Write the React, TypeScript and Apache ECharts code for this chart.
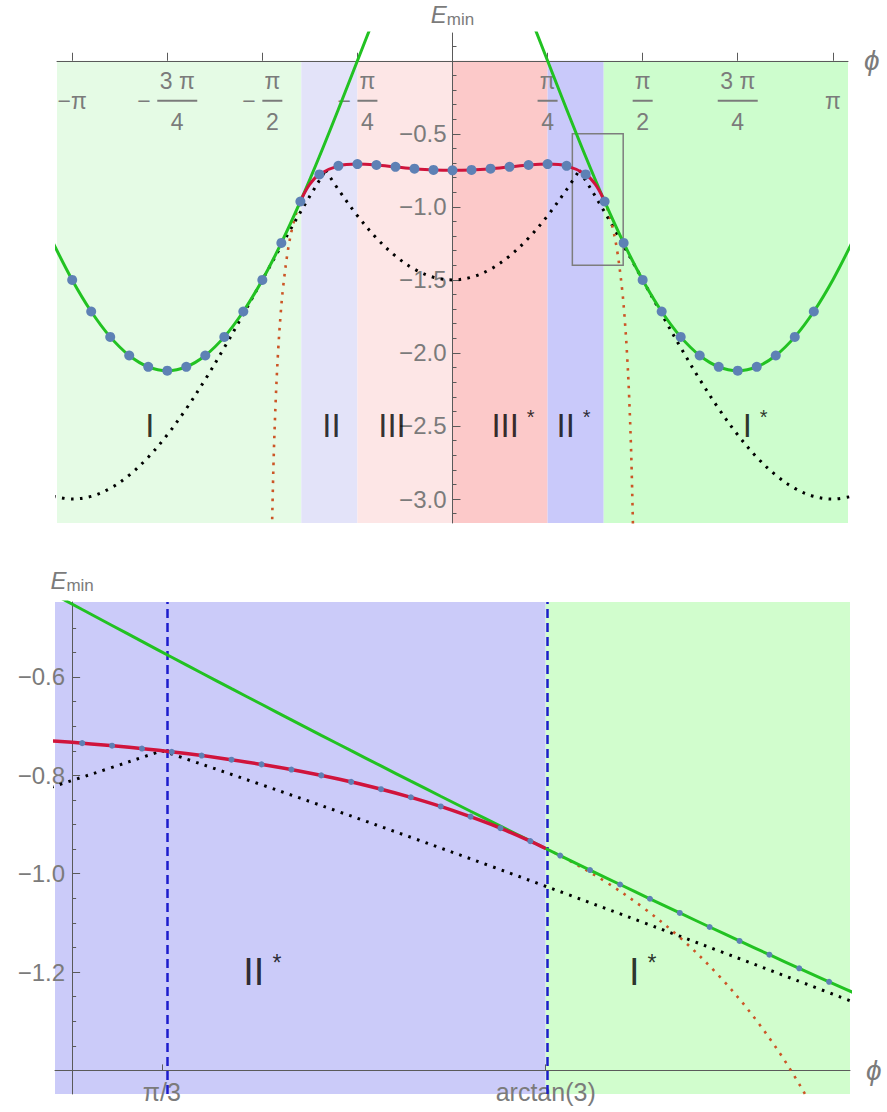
import React, { useEffect, useRef } from "react";
import * as echarts from "echarts";

const FONT = "'Liberation Sans', Arial, sans-serif";
const GRAY = "#7b7b7b";
const AXIS = "#5a5a5a";
const GREEN = "#22c222";
const RED = "#d0143c";
const RED_DOT = "#cc5526";
const BLACK = "#000000";
const DOT = "#5e81b5";

// ---------- upper panel: E_min over the full circle ----------
const PHI_RANGE_FULL = [-3.267, 3.267];
const E_RANGE_FULL = [-3.164, 0.19];

const REGION_EDGES_FULL = [-3.267, -1.249, -0.7854, 0, 0.7854, 1.249, 3.267];
const REGION_NAMES_FULL = ["I", "II", "III", "III*", "II*", "I*"];
const REGION_LABEL_PHI_FULL = [-2.5, -1.0, -0.5, 0.5, 1.0, 2.5];
const REGION_LABEL_E_FULL = -2.5;

// branch I / I* (green)
const GREEN_I: [number, number][] = [
  [-3.2987, -1.2469], [-3.1416, -1.5], [-2.9845, -1.7162], [-2.8274, -1.8901],
  [-2.6704, -2.0175], [-2.5133, -2.0952], [-2.3562, -2.1213], [-2.1991, -2.0952],
  [-2.042, -2.0175], [-1.885, -1.8901], [-1.7279, -1.7162], [-1.5708, -1.5],
  [-1.4137, -1.2469], [-1.2566, -0.9631], [-1.0996, -0.6555], [-0.9425, -0.3318],
  [-0.7854, 0], [-0.6283, 0.3318],
];
const GREEN_I_STAR: [number, number][] = [
  [0.6283, 0.3318], [0.7854, 0], [0.9425, -0.3318], [1.0996, -0.6555],
  [1.2566, -0.9631], [1.4137, -1.2469], [1.5708, -1.5], [1.7279, -1.7162],
  [1.885, -1.8901], [2.042, -2.0175], [2.1991, -2.0952], [2.3562, -2.1213],
  [2.5133, -2.0952], [2.6704, -2.0175], [2.8274, -1.8901], [2.9845, -1.7162],
  [3.1416, -1.5], [3.2987, -1.2469],
];
// branch II / III (red), valid part
const RED_FULL: [number, number][] = [
  [-1.249, -0.9487], [-1.18, -0.8468], [-1.0996, -0.7777], [-0.9425, -0.7192],
  [-0.7854, -0.7071], [-0.6283, -0.7135], [-0.4712, -0.7261], [-0.3142, -0.7384],
  [-0.1571, -0.747], [0, -0.75], [0.1571, -0.747], [0.3142, -0.7384],
  [0.4712, -0.7261], [0.6283, -0.7135], [0.7854, -0.7071], [0.9425, -0.7192],
  [1.0996, -0.7777], [1.18, -0.8468], [1.249, -0.9487],
];
// branch II continued past its range (dotted)
const RED_EXT_LEFT: [number, number][] = [
  [-1.5, -3.5696], [-1.48, -2.8026], [-1.46, -2.3163], [-1.44, -1.9821],
  [-1.42, -1.7393], [-1.4, -1.5559], [-1.36, -1.2994], [-1.32, -1.1314],
  [-1.28, -1.0153], [-1.249, -0.9487],
];
const RED_EXT_RIGHT: [number, number][] = [
  [1.249, -0.9487], [1.28, -1.0153], [1.32, -1.1314], [1.36, -1.2994],
  [1.4, -1.5559], [1.42, -1.7393], [1.44, -1.9821], [1.46, -2.3163],
  [1.48, -2.8026], [1.5, -3.5696],
];
// reference curve (black dotted), three smooth pieces meeting at ±π/3
const BLACK_LEFT: [number, number][] = [
  [-3.2987, -2.9815], [-3.1416, -3.0], [-2.9845, -2.9815], [-2.8274, -2.9266],
  [-2.6704, -2.8365], [-2.5133, -2.7135], [-2.3562, -2.5607], [-2.1991, -2.3817],
  [-2.042, -2.181], [-1.885, -1.9635], [-1.7279, -1.7347], [-1.5708, -1.5],
  [-1.4137, -1.2654], [-1.34, -1.1569], [-1.28, -1.0699], [-1.22, -0.9845],
  [-1.16, -0.901], [-1.1, -0.8196], [-1.0472, -0.75],
];
const BLACK_MID: [number, number][] = [
  [-1.0472, -0.75], [-0.9425, -0.8817], [-0.7854, -1.0607], [-0.6283, -1.2135],
  [-0.4712, -1.3365], [-0.3142, -1.4266], [-0.1571, -1.4815], [0, -1.5],
  [0.1571, -1.4815], [0.3142, -1.4266], [0.4712, -1.3365], [0.6283, -1.2135],
  [0.7854, -1.0607], [0.9425, -0.8817], [1.0472, -0.75],
];
const BLACK_RIGHT: [number, number][] = [
  [1.0472, -0.75], [1.1, -0.8196], [1.16, -0.901], [1.22, -0.9845],
  [1.28, -1.0699], [1.34, -1.1569], [1.4137, -1.2654], [1.5708, -1.5],
  [1.7279, -1.7347], [1.885, -1.9635], [2.042, -2.181], [2.1991, -2.3817],
  [2.3562, -2.5607], [2.5133, -2.7135], [2.6704, -2.8365], [2.8274, -2.9266],
  [2.9845, -2.9815], [3.1416, -3.0], [3.2987, -2.9815],
];
// numerical minima, step π/20
const POINTS_FULL: [number, number][] = [
  [-3.1416, -1.5], [-2.9845, -1.7162], [-2.8274, -1.8901], [-2.6704, -2.0175],
  [-2.5133, -2.0952], [-2.3562, -2.1213], [-2.1991, -2.0952], [-2.042, -2.0175],
  [-1.885, -1.8901], [-1.7279, -1.7162], [-1.5708, -1.5], [-1.4137, -1.2469],
  [-1.2566, -0.9631], [-1.0996, -0.7777], [-0.9425, -0.7192], [-0.7854, -0.7071],
  [-0.6283, -0.7135], [-0.4712, -0.7261], [-0.3142, -0.7384], [-0.1571, -0.747],
  [0, -0.75], [0.1571, -0.747], [0.3142, -0.7384], [0.4712, -0.7261],
  [0.6283, -0.7135], [0.7854, -0.7071], [0.9425, -0.7192], [1.0996, -0.7777],
  [1.2566, -0.9631], [1.4137, -1.2469], [1.5708, -1.5], [1.7279, -1.7162],
  [1.885, -1.8901], [2.042, -2.0175], [2.1991, -2.0952], [2.3562, -2.1213],
  [2.5133, -2.0952], [2.6704, -2.0175], [2.8274, -1.8901], [2.9845, -1.7162],
];
const ZOOM_BOX_PHI = [0.99, 1.41];
const ZOOM_BOX_E = [-1.4, -0.5];

const X_TICKS_FULL = [-3.1416, -2.3562, -1.5708, -0.7854, 0, 0.7854, 1.5708, 2.3562, 3.1416];
const X_LABEL_VALUES_FULL = [-3.1416, -2.3562, -1.5708, -0.7854, 0.7854, 1.5708, 2.3562, 3.1416];
const X_LABEL_TEXT_FULL = ["−π", "−3 π/4", "−π/2", "−π/4", "π/4", "π/2", "3 π/4", "π"];
const Y_TICKS_FULL = [-3.0, -2.5, -2.0, -1.5, -1.0, -0.5];
const Y_MINOR_FULL = [
  -3.1, -2.9, -2.8, -2.7, -2.6, -2.4, -2.3, -2.2, -2.1, -1.9, -1.8, -1.7, -1.6,
  -1.4, -1.3, -1.2, -1.1, -0.9, -0.8, -0.7, -0.6, -0.4, -0.3, -0.2, -0.1, 0.1,
];
const AXIS_CROSS_FULL = [0, 0];

// ---------- lower panel: close-up around the II*/I* boundary ----------
const PHI_RANGE_ZOOM = [0.991, 1.409];
const E_RANGE_ZOOM = [-1.448, -0.4475];
const AXIS_CROSS_ZOOM = [1.0, -1.4];
const REGION_EDGES_ZOOM = [0.991, 1.249, 1.409];
const REGION_NAMES_ZOOM = ["II*", "I*"];
const REGION_LABEL_PHI_ZOOM = [1.1, 1.3];
const REGION_LABEL_E_ZOOM = -1.2;
const MARKER_PHI_ZOOM = [1.0472, 1.249];
const MARKER_TEXT_ZOOM = ["π/3", "arctan(3)"];

const GREEN_ZOOM: [number, number][] = [
  [0.98, -0.4102], [1.0053, -0.4628], [1.021, -0.4952], [1.0367, -0.5276],
  [1.0524, -0.5598], [1.0681, -0.5918], [1.0838, -0.6238], [1.0996, -0.6555],
  [1.1153, -0.6871], [1.131, -0.7186], [1.1467, -0.7498], [1.1624, -0.7809],
  [1.1781, -0.8118], [1.1938, -0.8425], [1.2095, -0.873], [1.2252, -0.9032],
  [1.2409, -0.9333], [1.2566, -0.9631], [1.2723, -0.9926], [1.2881, -1.022],
  [1.3038, -1.051], [1.3195, -1.0798], [1.3352, -1.1084], [1.3509, -1.1367],
  [1.3666, -1.1647], [1.3823, -1.1924], [1.398, -1.2198], [1.42, -1.2577],
];
const RED_ZOOM: [number, number][] = [
  [0.98, -0.7273], [1.0, -0.7329], [1.02, -0.7394], [1.04, -0.747],
  [1.06, -0.7558], [1.08, -0.7661], [1.1, -0.778], [1.12, -0.7917],
  [1.14, -0.8075], [1.16, -0.8257], [1.18, -0.8468], [1.2, -0.8711],
  [1.22, -0.8993], [1.24, -0.9321], [1.249, -0.9487],
];
const RED_EXT_ZOOM: [number, number][] = [
  [1.249, -0.9487], [1.26, -0.9704], [1.28, -1.0153], [1.3, -1.0683],
  [1.32, -1.1314], [1.34, -1.2073], [1.36, -1.2994], [1.38, -1.4131],
  [1.4, -1.5559], [1.42, -1.7393],
];
const BLACK_MID_ZOOM: [number, number][] = [
  [0.98, -0.8355], [1.0, -0.8104], [1.02, -0.7851], [1.04, -0.7593], [1.0472, -0.75],
];
const BLACK_RIGHT_ZOOM: [number, number][] = [
  [1.0472, -0.75], [1.06, -0.7667], [1.1, -0.8196], [1.14, -0.8736],
  [1.18, -0.9286], [1.22, -0.9845], [1.26, -1.0413], [1.3, -1.0988],
  [1.34, -1.1569], [1.38, -1.2155], [1.42, -1.2747],
];
// numerical minima, step π/200
const POINTS_ZOOM: [number, number][] = [
  [1.0053, -0.7345], [1.021, -0.7397], [1.0367, -0.7456], [1.0524, -0.7523],
  [1.0681, -0.7598], [1.0838, -0.7682], [1.0996, -0.7777], [1.1153, -0.7882],
  [1.131, -0.8001], [1.1467, -0.8133], [1.1624, -0.8281], [1.1781, -0.8446],
  [1.1938, -0.8632], [1.2095, -0.884], [1.2252, -0.9074], [1.2409, -0.9338],
  [1.2566, -0.9631], [1.2723, -0.9926], [1.2881, -1.022], [1.3038, -1.051],
  [1.3195, -1.0798], [1.3352, -1.1084], [1.3509, -1.1367], [1.3666, -1.1647],
  [1.3823, -1.1924], [1.398, -1.2198],
];
const Y_TICKS_ZOOM = [-1.2, -1.0, -0.8, -0.6];
const Y_MINOR_ZOOM = [
  -1.35, -1.3, -1.25, -1.15, -1.1, -1.05, -0.95, -0.9, -0.85, -0.75, -0.7,
  -0.65, -0.55, -0.5,
];

// fill colours of the regions (left half lighter)
const FILL_FULL = ["#e5fbe5", "#e3e3f9", "#fde6e6", "#fcc9c9", "#c9c9fa", "#cdfdcd"];
const FILL_ZOOM = ["#cbcbf9", "#d1fdcd"];

// plot frames in pixels
const GRID_FULL = { left: 57, top: 33, width: 791, height: 490 };
const GRID_ZOOM = { left: 55, top: 602, width: 795, height: 492 };

const numLabel = (v: number) => (v < 0 ? "−" : "") + Math.abs(v).toFixed(1);

// pixel distance of the crossing point from the grid's left / bottom edge
const crossFromLeft = (g: typeof GRID_FULL, xr: number[], x: number) =>
  (g.width * (x - xr[0])) / (xr[1] - xr[0]);
const crossFromBottom = (g: typeof GRID_FULL, yr: number[], y: number) =>
  (g.height * (y - yr[0])) / (yr[1] - yr[0]);

function fractionLabel(text: string): string {
  const neg = text.startsWith("−");
  const body = neg ? text.slice(1) : text;
  if (!body.includes("/")) {
    return `{gap| }\n{whole|${text}}\n{gap2| }`;
  }
  const [num, den] = body.split("/");
  const wide = num.length > 1 ? "W" : "N";
  const lead = neg ? "{sgn|−}" : "";
  const pad = neg ? "{sp| }" : "";
  return `${pad}{num${wide}|${num}}\n${lead}{bar${wide}| }\n${pad}{den${wide}|${den}}`;
}

const fracText = { fontSize: 23, fontFamily: FONT, color: GRAY, align: "center" as const };
const FRACTION_RICH = {
  numW: { ...fracText, width: 40, lineHeight: 25 },
  numN: { ...fracText, width: 20, lineHeight: 25 },
  denW: { ...fracText, width: 40, lineHeight: 29 },
  denN: { ...fracText, width: 20, lineHeight: 29 },
  barW: { width: 40, height: 2, lineHeight: 14, backgroundColor: GRAY },
  barN: { width: 20, height: 2, lineHeight: 14, backgroundColor: GRAY },
  sgn: { ...fracText, width: 20, lineHeight: 14, align: "left" as const },
  sp: { width: 20, lineHeight: 14 },
  whole: { ...fracText, lineHeight: 14 },
  gap: { lineHeight: 25 },
  gap2: { lineHeight: 29 },
};

const roman = (name: string) =>
  name.endsWith("*") ? `{r|${name.slice(0, -1)}}{s|*}` : `{r|${name}}`;

const romanRich = (size: number) => ({
  r: { fontSize: size, fontFamily: FONT, color: BLACK, lineHeight: size + 4 },
  s: {
    fontSize: Math.round(size * 0.6),
    fontFamily: FONT,
    color: BLACK,
    lineHeight: size + 4,
    verticalAlign: "top" as const,
    padding: [0, 0, 0, 8],
  },
});

const nameRich = {
  e: { fontSize: 24, fontStyle: "italic" as const, fontFamily: FONT, color: GRAY, lineHeight: 28 },
  m: { fontSize: 17, fontFamily: FONT, color: GRAY, lineHeight: 28, verticalAlign: "bottom" as const },
};

const line = (
  data: [number, number][],
  grid: number,
  color: string,
  width: number,
  dotted: boolean,
  z: number
) => ({
  type: "line",
  xAxisIndex: grid,
  yAxisIndex: grid === 0 ? 0 : 2,
  data,
  smooth: 0.35,
  showSymbol: false,
  silent: true,
  z,
  lineStyle: {
    color,
    width,
    type: dotted ? [2.6, 6.4] : "solid",
    cap: "butt",
  },
});

function buildOption() {
  const fullFills = REGION_NAMES_FULL.map((_, i) => [
    { xAxis: REGION_EDGES_FULL[i], yAxis: 0, itemStyle: { color: FILL_FULL[i] } },
    { xAxis: REGION_EDGES_FULL[i + 1], yAxis: E_RANGE_FULL[0] },
  ]);
  const zoomFills = REGION_NAMES_ZOOM.map((_, i) => [
    { xAxis: REGION_EDGES_ZOOM[i], yAxis: E_RANGE_ZOOM[1], itemStyle: { color: FILL_ZOOM[i] } },
    { xAxis: REGION_EDGES_ZOOM[i + 1], yAxis: E_RANGE_ZOOM[0] },
  ]);

  const tickStyle = { color: AXIS, width: 1 };
  const labelBase = { color: GRAY, fontFamily: FONT, fontSize: 24 };

  // axes are moved from the frame edge to the crossing point
  const xOffFull = -(GRID_FULL.height - crossFromBottom(GRID_FULL, E_RANGE_FULL, AXIS_CROSS_FULL[1]));
  const yOffFull = -crossFromLeft(GRID_FULL, PHI_RANGE_FULL, AXIS_CROSS_FULL[0]);
  const xOffZoom = -crossFromBottom(GRID_ZOOM, E_RANGE_ZOOM, AXIS_CROSS_ZOOM[1]);
  const yOffZoom = -crossFromLeft(GRID_ZOOM, PHI_RANGE_ZOOM, AXIS_CROSS_ZOOM[0]);

  return {
    animation: false,
    backgroundColor: "#ffffff",
    grid: [
      { ...GRID_FULL, outerBoundsMode: "none" },
      { ...GRID_ZOOM, outerBoundsMode: "none" },
    ],
    xAxis: [
      {
        gridIndex: 0,
        type: "value",
        position: "top",
        offset: xOffFull,
        min: PHI_RANGE_FULL[0],
        max: PHI_RANGE_FULL[1],
        z: 3,
        axisLine: { onZero: false, lineStyle: tickStyle },
        axisTick: { customValues: X_TICKS_FULL, inside: false, length: 8, lineStyle: tickStyle },
        axisLabel: {
          customValues: X_LABEL_VALUES_FULL,
          inside: true,
          margin: 8,
          verticalAlign: "top",
          formatter: (v: number) => {
            const i = X_LABEL_VALUES_FULL.findIndex((t) => Math.abs(t - v) < 1e-6);
            return i < 0 ? "" : fractionLabel(X_LABEL_TEXT_FULL[i]);
          },
          rich: FRACTION_RICH,
        },
        splitLine: { show: false },
        name: "ϕ",
        nameLocation: "end",
        nameGap: 16,
        nameTextStyle: { fontSize: 28, fontStyle: "italic", color: GRAY, fontFamily: FONT },
      },
      {
        gridIndex: 1,
        type: "value",
        position: "bottom",
        min: PHI_RANGE_ZOOM[0],
        max: PHI_RANGE_ZOOM[1],
        z: 3,
        offset: xOffZoom,
        axisLine: { onZero: false, lineStyle: tickStyle },
        axisTick: { customValues: MARKER_PHI_ZOOM, inside: true, length: 6, lineStyle: tickStyle },
        axisLabel: {
          customValues: MARKER_PHI_ZOOM,
          margin: 9,
          ...labelBase,
          fontSize: 25,
          formatter: (v: number) => {
            const i = MARKER_PHI_ZOOM.findIndex((t) => Math.abs(t - v) < 1e-6);
            return i < 0 ? "" : MARKER_TEXT_ZOOM[i];
          },
        },
        splitLine: { show: false },
        name: "ϕ",
        nameLocation: "end",
        nameGap: 16,
        nameTextStyle: { fontSize: 28, fontStyle: "italic", color: GRAY, fontFamily: FONT },
      },
    ],
    yAxis: [
      {
        gridIndex: 0,
        type: "value",
        position: "left",
        offset: yOffFull,
        min: E_RANGE_FULL[0],
        max: E_RANGE_FULL[1],
        z: 3,
        axisLine: { onZero: false, lineStyle: tickStyle },
        axisTick: { customValues: Y_TICKS_FULL, inside: true, length: 8, lineStyle: tickStyle },
        axisLabel: { customValues: Y_TICKS_FULL, margin: 6, ...labelBase, formatter: numLabel },
        splitLine: { show: false },
        name: "{e|E}{m|min}",
        nameLocation: "end",
        nameGap: 5,
        nameTextStyle: { rich: nameRich },
      },
      {
        gridIndex: 0,
        type: "value",
        position: "left",
        offset: yOffFull,
        min: E_RANGE_FULL[0],
        max: E_RANGE_FULL[1],
        z: 3,
        axisLine: { onZero: false, show: false },
        axisTick: { customValues: Y_MINOR_FULL, inside: true, length: 4, lineStyle: tickStyle },
        axisLabel: { show: false },
        splitLine: { show: false },
      },
      {
        gridIndex: 1,
        type: "value",
        position: "left",
        min: E_RANGE_ZOOM[0],
        max: E_RANGE_ZOOM[1],
        z: 3,
        offset: yOffZoom,
        axisLine: { onZero: false, lineStyle: tickStyle },
        axisTick: { customValues: Y_TICKS_ZOOM, inside: true, length: 8, lineStyle: tickStyle },
        axisLabel: { customValues: Y_TICKS_ZOOM, margin: 7, ...labelBase, formatter: numLabel },
        splitLine: { show: false },
        name: "{e|E}{m|min}",
        nameLocation: "end",
        nameGap: 8,
        nameTextStyle: { rich: nameRich },
      },
      {
        gridIndex: 1,
        type: "value",
        position: "left",
        min: E_RANGE_ZOOM[0],
        max: E_RANGE_ZOOM[1],
        z: 3,
        offset: yOffZoom,
        axisLine: { onZero: false, show: false },
        axisTick: { customValues: Y_MINOR_ZOOM, inside: true, length: 4, lineStyle: tickStyle },
        axisLabel: { show: false },
        splitLine: { show: false },
      },
    ],
    series: [
      // ---- upper panel ----
      {
        type: "line",
        xAxisIndex: 0,
        yAxisIndex: 0,
        data: [],
        silent: true,
        z: 1,
        markArea: { silent: true, data: fullFills },
      },
      {
        type: "line",
        xAxisIndex: 0,
        yAxisIndex: 0,
        data: [],
        silent: true,
        z: 2,
        markArea: {
          silent: true,
          data: [[
            {
              xAxis: ZOOM_BOX_PHI[0],
              yAxis: ZOOM_BOX_E[1],
              itemStyle: { color: "rgba(0,0,0,0)", borderColor: "#7d7d7d", borderWidth: 1.5 },
            },
            { xAxis: ZOOM_BOX_PHI[1], yAxis: ZOOM_BOX_E[0] },
          ]],
        },
      },
      line(BLACK_LEFT, 0, BLACK, 3, true, 4),
      line(BLACK_MID, 0, BLACK, 3, true, 4),
      line(BLACK_RIGHT, 0, BLACK, 3, true, 4),
      line(RED_EXT_LEFT, 0, RED_DOT, 2.6, true, 4),
      line(RED_EXT_RIGHT, 0, RED_DOT, 2.6, true, 4),
      line(GREEN_I, 0, GREEN, 3, false, 5),
      line(GREEN_I_STAR, 0, GREEN, 3, false, 5),
      line(RED_FULL, 0, RED, 3, false, 5),
      {
        type: "scatter",
        xAxisIndex: 0,
        yAxisIndex: 0,
        data: POINTS_FULL,
        symbolSize: 10,
        silent: true,
        z: 6,
        itemStyle: { color: DOT, opacity: 1 },
      },
      {
        type: "scatter",
        xAxisIndex: 0,
        yAxisIndex: 0,
        data: REGION_NAMES_FULL.map((n, i) => [REGION_LABEL_PHI_FULL[i], REGION_LABEL_E_FULL, n]),
        symbolSize: 1,
        silent: true,
        z: 7,
        itemStyle: { color: "rgba(0,0,0,0)" },
        label: {
          show: true,
          position: "inside",
          formatter: (p: any) => roman(p.data[2]),
          rich: romanRich(33),
        },
      },
      // ---- lower panel ----
      {
        type: "line",
        xAxisIndex: 1,
        yAxisIndex: 2,
        data: [],
        silent: true,
        z: 1,
        markArea: { silent: true, data: zoomFills },
      },
      {
        type: "line",
        xAxisIndex: 1,
        yAxisIndex: 2,
        data: [],
        silent: true,
        z: 4,
        markLine: {
          silent: true,
          symbol: "none",
          label: { show: false },
          lineStyle: { color: "#1c1ccc", width: 2.5, type: [9, 5] },
          data: MARKER_PHI_ZOOM.map((v) => ({ xAxis: v })),
        },
      },
      line(BLACK_MID_ZOOM, 1, BLACK, 3, true, 4),
      line(BLACK_RIGHT_ZOOM, 1, BLACK, 3, true, 4),
      line(RED_EXT_ZOOM, 1, RED_DOT, 2.6, true, 4),
      line(GREEN_ZOOM, 1, GREEN, 3, false, 5),
      line(RED_ZOOM, 1, RED, 3.5, false, 5),
      {
        type: "scatter",
        xAxisIndex: 1,
        yAxisIndex: 2,
        data: POINTS_ZOOM,
        symbolSize: 6,
        silent: true,
        z: 6,
        itemStyle: { color: DOT, opacity: 1 },
      },
      {
        type: "scatter",
        xAxisIndex: 1,
        yAxisIndex: 2,
        data: REGION_NAMES_ZOOM.map((n, i) => [REGION_LABEL_PHI_ZOOM[i], REGION_LABEL_E_ZOOM, n]),
        symbolSize: 1,
        silent: true,
        z: 7,
        itemStyle: { color: "rgba(0,0,0,0)" },
        label: {
          show: true,
          position: "inside",
          formatter: (p: any) => roman(p.data[2]),
          rich: romanRich(38),
        },
      },
    ],
  };
}

export default function App() {
  const ref = useRef<HTMLDivElement>(null);
  useEffect(() => {
    if (!ref.current) return;
    const chart = echarts.init(ref.current, undefined, { renderer: "svg" });
    chart.setOption(buildOption() as any);
    return () => chart.dispose();
  }, []);
  return (
    <div
      ref={ref}
      style={{ position: "fixed", left: 0, top: 0, width: 887, height: 1112, background: "#fff" }}
    />
  );
}
